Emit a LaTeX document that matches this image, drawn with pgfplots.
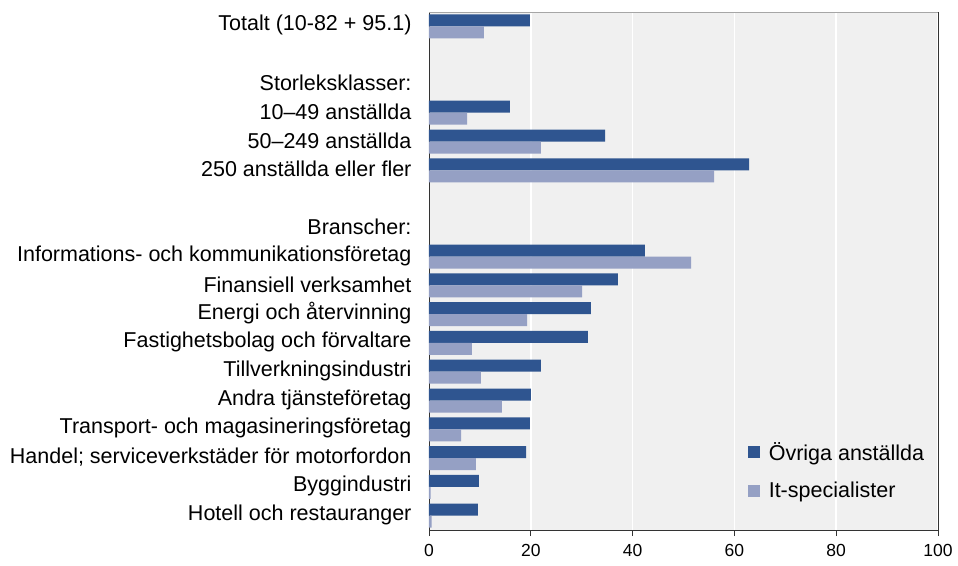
\documentclass[border=0pt]{standalone}
\usepackage{pgfplots}
\pgfplotsset{compat=1.18}
\usepackage{fontspec}
\setmainfont{Liberation Sans}
\definecolor{darkb}{RGB}{47,85,144}
\definecolor{lightb}{RGB}{149,160,196}
\definecolor{bg}{RGB}{240,240,240}
\begin{document}
\begin{tikzpicture}
\begin{axis}[
  scale only axis,
  width=509pt, height=518pt,
  xmin=0, xmax=100,
  ymin=-0.5, ymax=17.5,
  y dir=reverse,
  xbar,
  bar width=12pt,
  xtick={0,20,...,100},
  ytick={0,...,17},
  yticklabels={{Totalt (10-82 + 95.1)},{},{Storleksklasser:},{10–49 anställda},{50–249 anställda},{250 anställda eller fler},{},{Branscher:},{Informations- och kommunikationsföretag},{Finansiell verksamhet},{Energi och återvinning},{Fastighetsbolag och förvaltare},{Tillverkningsindustri},{Andra tjänsteföretag},{Transport- och magasineringsföretag},{Handel; serviceverkstäder för motorfordon},{Byggindustri},{Hotell och restauranger}},
  ytick style={draw=none},
  xtick pos=bottom,
  tick align=outside,
  major tick length=6pt,
  xmajorgrids,
  major grid style={white, line width=1.5pt},
  axis background/.style={fill=bg},
  axis line style={black!80, line width=0.8pt},
  tick style={black!80, line width=0.8pt},
  yticklabel style={font=\fontsize{21.5}{24}\selectfont, xshift=-8pt, yshift=1pt},
  xticklabel style={font=\fontsize{17.5}{20}\selectfont, yshift=-5pt},
  /pgf/number format/assume math mode=true,
  legend style={draw=none, fill=none, at={(0.62,0.114)}, anchor=west,
    font=\fontsize{21.5}{24}\selectfont, row sep=16pt},
  legend cell align=left,
  legend image code/.code={\fill[#1] (0pt,-6pt) rectangle (12pt,6pt); \path (0pt,0pt) (19pt,0pt);},
]
\addplot[fill=darkb, draw=none, bar shift=6pt] coordinates {
(19.8,0) (15.9,3) (34.6,4) (62.9,5)
(42.4,8) (37.1,9) (31.8,10) (31.2,11) (22.0,12) (20.0,13) (19.8,14) (19.1,15) (9.8,16) (9.6,17)};
\addplot[fill=lightb, draw=none, bar shift=-6pt] coordinates {
(10.8,0) (7.5,3) (22.0,4) (56.0,5)
(51.5,8) (30.1,9) (19.3,10) (8.4,11) (10.2,12) (14.3,13) (6.3,14) (9.2,15) (0.3,16) (0.5,17)};
\legend{Övriga anställda, It-specialister}
\end{axis}
\draw[gray!70, line width=0.8pt] (current axis.north west) -- (current axis.north east);
\pgfresetboundingbox
\path (current axis.south west) ++(-429pt,-35pt) coordinate (p1);
\path (current axis.north east) ++(20pt,12pt) coordinate (p2);
\useasboundingbox (p1) rectangle (p2);
\end{tikzpicture}
\end{document}
